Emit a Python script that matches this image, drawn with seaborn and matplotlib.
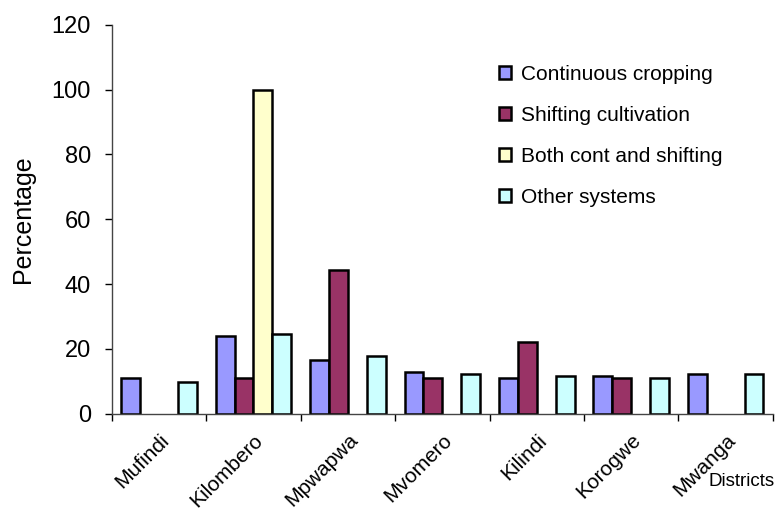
import numpy as np
import pandas as pd
import seaborn as sns
import matplotlib.pyplot as plt
from matplotlib.patches import Patch

# Values
districts = ["Mufindi", "Kilombero", "Mpwapwa", "Mvomero", "Kilindi", "Korogwe", "Mwanga"]
systems = ["Continuous cropping", "Shifting cultivation", "Both cont and shifting", "Other systems"]
continuous = [11, 24, 16.5, 13, 11, 11.6, 12.2]
shifting = [np.nan, 11, 44.4, 11, 22.1, 11, np.nan]
both = [np.nan, 100, np.nan, np.nan, np.nan, np.nan, np.nan]
other = [9.8, 24.6, 17.8, 12.2, 11.6, 11, 12.2]
colors = ["#9999FF", "#993366", "#FFFFCC", "#CCFFFF"]

df = pd.DataFrame({
    "District": districts * 4,
    "System": np.repeat(systems, len(districts)),
    "Percentage": continuous + shifting + both + other,
})

sns.set_style("white")
plt.rcParams["font.family"] = ["Liberation Sans", "DejaVu Sans"]
plt.rcParams["text.color"] = "black"
plt.rcParams["axes.labelcolor"] = "black"
plt.rcParams["xtick.color"] = "black"
plt.rcParams["ytick.color"] = "black"

fig = plt.figure(figsize=(7.76, 5.16), dpi=100)
ax = fig.add_axes([0.144, 0.198, 0.852, 0.754])

sns.barplot(data=df, x="District", y="Percentage", hue="System",
            hue_order=systems, order=districts, palette=colors, saturation=1,
            width=0.8, edgecolor="black", linewidth=1.8,
            errorbar=None, legend=False, ax=ax)

ax.set_ylim(0, 120)
ax.set_yticks(range(0, 121, 20))
ax.set_xlim(-0.5, len(districts) - 0.5)
ax.tick_params(axis="y", labelsize=17, length=5, width=1, direction="out", left=True, pad=10)

# labels at category centres, tick marks between categories
ax.set_xticks(range(len(districts)))
ax.set_xticklabels(districts, rotation=45, ha="right", va="top",
                   rotation_mode="anchor", fontsize=15)
ax.tick_params(axis="x", length=0, pad=12)
ax.set_xticks(np.arange(-0.5, len(districts), 1), minor=True)
ax.tick_params(axis="x", which="minor", length=5, width=1, bottom=True)

for s in ["top", "right"]:
    ax.spines[s].set_visible(False)
for s in ["left", "bottom"]:
    ax.spines[s].set_color("#444444")
    ax.spines[s].set_linewidth(1)

ax.set_xlabel("")
ax.set_ylabel("Percentage", fontsize=18, labelpad=12)
fig.text(0.998, 0.066, "Districts", ha="right", va="center", fontsize=13.5)

handles = [Patch(facecolor=c, edgecolor="black", linewidth=1.8) for c in colors]
ax.legend(handles, systems, loc="upper left", bbox_to_anchor=(0.557, 0.945),
          frameon=False, fontsize=15, handlelength=0.6, handleheight=0.6,
          handletextpad=0.45, labelspacing=1.05)

fig.savefig("out.png", dpi=100)
